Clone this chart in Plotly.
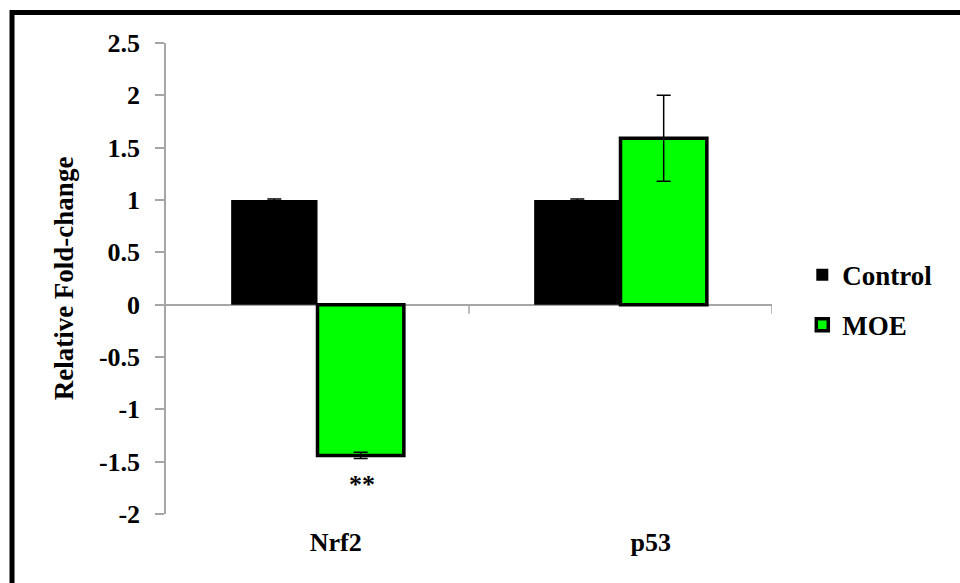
import plotly.graph_objects as go

categories = ["Nrf2", "p53"]
control_values = [1.0, 1.0]
control_errors = [0.01, 0.01]
moe_values = [-1.44, 1.59]
moe_errors = [0.03, 0.41]
ytick_vals = [2.5, 2, 1.5, 1, 0.5, 0, -0.5, -1, -1.5, -2]
ytick_text = ["2.5", "2", "1.5", "1", "0.5", "0", "-0.5", "-1", "-1.5", "-2"]

FONT = "Liberation Serif"
AXIS_GREY = "#a6a6a6"

fig = go.Figure()
fig.add_trace(go.Bar(
    x=categories, y=control_values, name="<b>Control</b>",
    marker=dict(color="black", line=dict(color="black", width=0)),
    error_y=dict(type="data", array=control_errors, color="black", thickness=1.5, width=7),
    legendgroup="a",
))
fig.add_trace(go.Bar(
    x=categories, y=moe_values, name="<b>MOE</b>",
    marker=dict(color="#00ff00", line=dict(color="black", width=3.5)),
    error_y=dict(type="data", array=moe_errors, color="black", thickness=1.5, width=7),
    legendgroup="b",
))

fig.add_annotation(x="Nrf2", y=-1.72, text="<b>**</b>", showarrow=False, xshift=44,
                   font=dict(family=FONT, size=26, color="black"))

# small tick marks on the zero line at category boundaries
for xb in [0.5, 1.5]:
    fig.add_shape(type="line", xref="x", yref="y", x0=xb, x1=xb,
                  ysizemode="pixel", yanchor=0, y0=0, y1=-9,
                  line=dict(color=AXIS_GREY, width=1.5))

# outer frame
fig.add_shape(type="rect", xref="paper", yref="paper",
              x0=-0.2541, x1=1.6, y0=-0.5, y1=1.0648,
              line=dict(color="black", width=5), fillcolor="rgba(0,0,0,0)", layer="below")

fig.update_layout(
    width=960, height=583,
    margin=dict(l=166, r=188, t=43, b=69),
    paper_bgcolor="white", plot_bgcolor="white",
    barmode="group", bargap=0.43, bargroupgap=0,
    font=dict(family=FONT, color="black"),
    showlegend=True,
    legend=dict(x=1.05, y=0.454, xanchor="left", yanchor="middle",
                font=dict(family=FONT, size=27, color="black"),
                traceorder="grouped", tracegroupgap=12, bgcolor="rgba(0,0,0,0)",
                itemwidth=30),
    xaxis=dict(range=[-0.5, 1.5], showline=False, showgrid=False, zeroline=False,
               ticks="", ticklabelstandoff=10,
               tickmode="array", tickvals=[0.06, 1.1],
               ticktext=["<b>" + c + "</b>" for c in categories],
               tickfont=dict(family=FONT, size=26, color="black")),
    yaxis=dict(range=[-2, 2.5], tickvals=ytick_vals, ticktext=["<b>" + t + "</b>" for t in ytick_text],
               showline=True, linecolor=AXIS_GREY, linewidth=1.5,
               ticks="outside", ticklen=9, tickcolor=AXIS_GREY, tickwidth=1.5,
               ticklabelstandoff=10,
               showgrid=False, zeroline=True, zerolinecolor=AXIS_GREY, zerolinewidth=1.5,
               tickfont=dict(family=FONT, size=26, color="black"),
               title=dict(text="<b>Relative Fold-change</b>", standoff=17,
                          font=dict(family=FONT, size=27, color="black"))),
)

fig.write_html("out.html")
